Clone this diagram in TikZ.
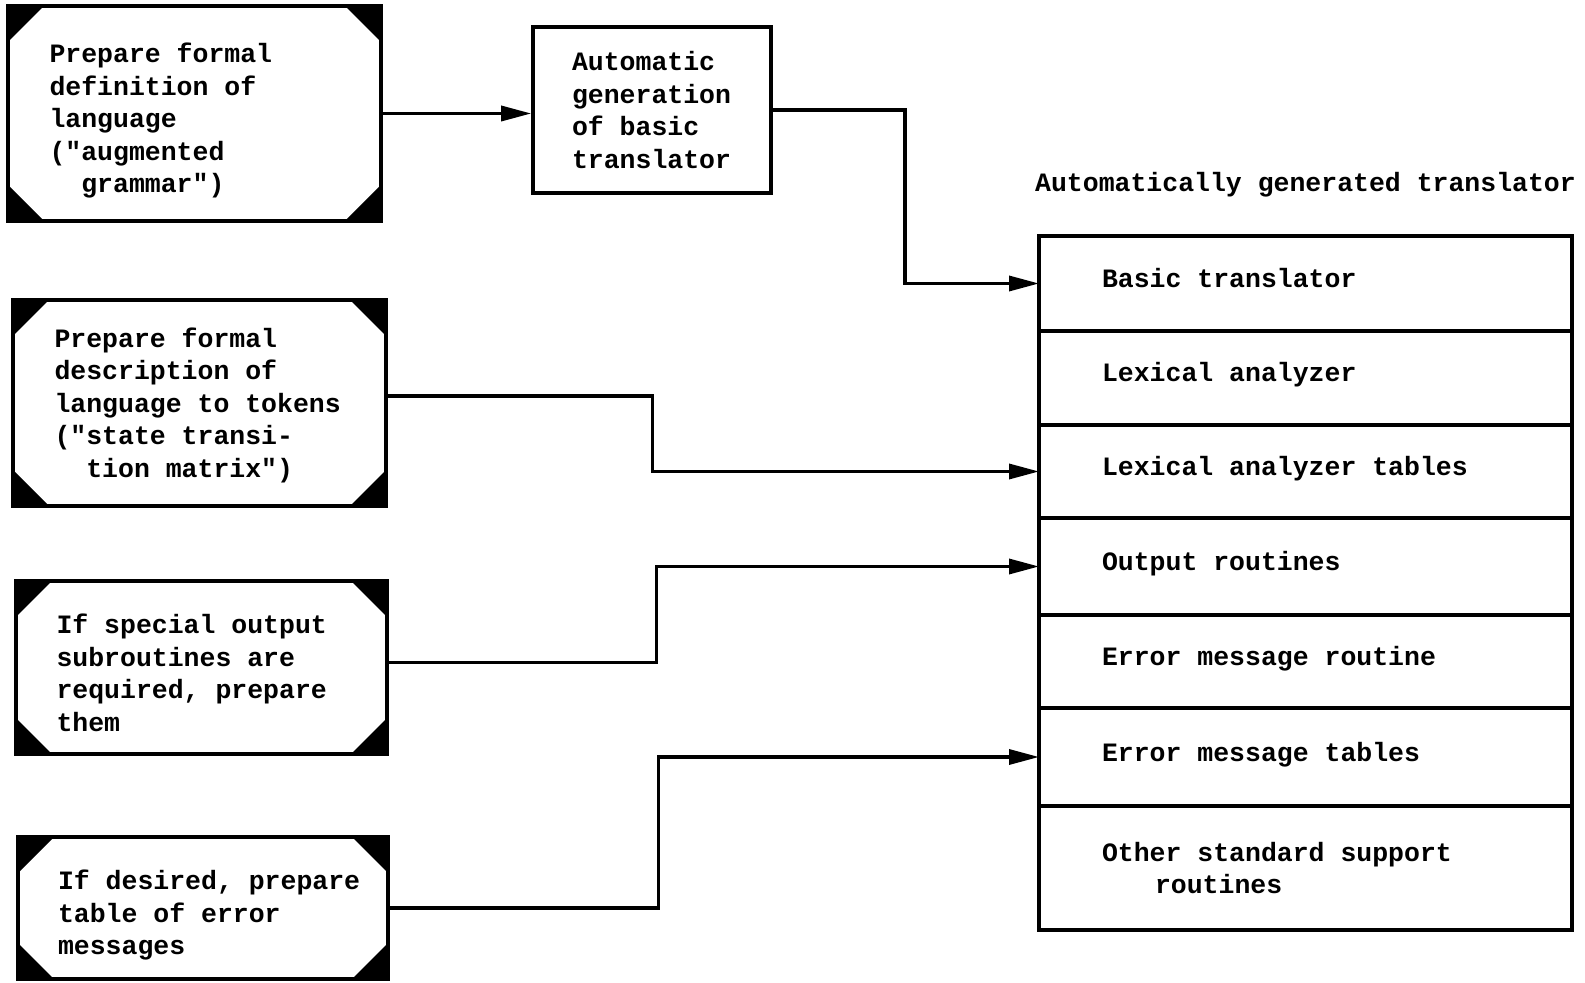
\documentclass[tikz,border=0pt]{standalone}
\usepackage{fontspec}
\setmonofont{Liberation Mono}
\usepackage{tikz}
\usetikzlibrary{arrows.meta,positioning,calc}

\newcommand{\topgap}[1]{\rule{0pt}{#1}}

\begin{document}
\begin{tikzpicture}[x=0.5pt,y=-0.5pt,
  font=\ttfamily\bfseries\fontsize{13.25pt}{16.25pt}\selectfont,
  card/.style={draw,line width=2.2pt,rectangle,text width=145pt,align=flush left,inner sep=0pt,
    path picture={
      \fill (path picture bounding box.north west) -- ++(18pt,0pt) -- ++(-18pt,-18pt) -- cycle;
      \fill (path picture bounding box.north east) -- ++(-18pt,0pt) -- ++(18pt,-18pt) -- cycle;
      \fill (path picture bounding box.south west) -- ++(18pt,0pt) -- ++(-18pt,18pt) -- cycle;
      \fill (path picture bounding box.south east) -- ++(-18pt,0pt) -- ++(18pt,18pt) -- cycle;}},
  genbox/.style={draw,line width=1.8pt,text width=80pt,align=flush left,inner sep=0pt},
  row/.style={draw,line width=1.75pt,outer sep=0pt,inner xsep=31.5pt,inner ysep=0pt,
    text width=203.5pt,align=flush left},
  oneline/.style={text height=9pt,text depth=5pt},
  conn/.style={line width=1.7pt,-{Triangle[length=15pt,width=7.5pt]}},
  heading/.style={inner sep=0pt}]
  \useasboundingbox (0,0) rectangle (1585,983);
  % preparation steps
  \node[card,minimum width=186.5pt,minimum height=107.5pt] (b1) at (194.5,113.5)
    {\topgap{17pt}Prepare formal\\definition of\\language\\("augmented\\\hspace*{1.2em}grammar")};
  \node[card,minimum width=186.5pt,minimum height=103pt] (b2) at (199.5,403)
    {\topgap{12pt}Prepare formal\\description of\\language to tokens\\("state transi-\\\hspace*{1.2em}tion matrix")};
  \node[card,minimum width=185.5pt,minimum height=86.5pt] (b3) at (201.5,667.5)
    {\topgap{15pt}If special output\\subroutines are\\required, prepare\\them};
  \node[card,minimum width=185pt,minimum height=71pt] (b4) at (203,908)
    {\topgap{17pt}\mbox{If desired, prepare}\\table of error\\messages};
  \node[genbox,minimum width=119pt,minimum height=83pt] (gen) at (652,110)
    {Automatic\\generation\\of basic\\translator};
  % generated translator
  \node[row,oneline,anchor=north,minimum height=47.5pt] (r1) at (1305.5,236) {Basic translator};
  \node[row,oneline,below=0pt of r1,minimum height=47pt] (r2) {Lexical analyzer};
  \node[row,oneline,below=0pt of r2,minimum height=46.5pt] (r3) {Lexical analyzer tables};
  \node[row,oneline,below=0pt of r3,minimum height=48.5pt] (r4) {Output routines};
  \node[row,oneline,below=0pt of r4,minimum height=46.5pt] (r5) {Error message routine};
  \node[row,oneline,below=0pt of r5,minimum height=49pt] (r6) {Error message tables};
  \node[row,below=0pt of r6,minimum height=62pt] (r7)
    {Other standard support\\\hspace*{2em}routines};
  \node[heading,above=19pt of r1] (title) {Automatically generated translator};
  % connectors
  \draw[conn] (b1.east) -- (b1.east -| gen.west);
  \draw[conn] (gen.east) -- ++(132,0) |- (r1.west);
  \draw[conn] ([yshift=3.5pt]b2.east) -- ++(264,0) |- (r3.west);
  \draw[conn] ([yshift=2.5pt]b3.east) -- ++(267,0) |- (r4.west);
  \draw[conn] (b4.east) -- ++(268,0) |- (r6.west);
\end{tikzpicture}
\end{document}
